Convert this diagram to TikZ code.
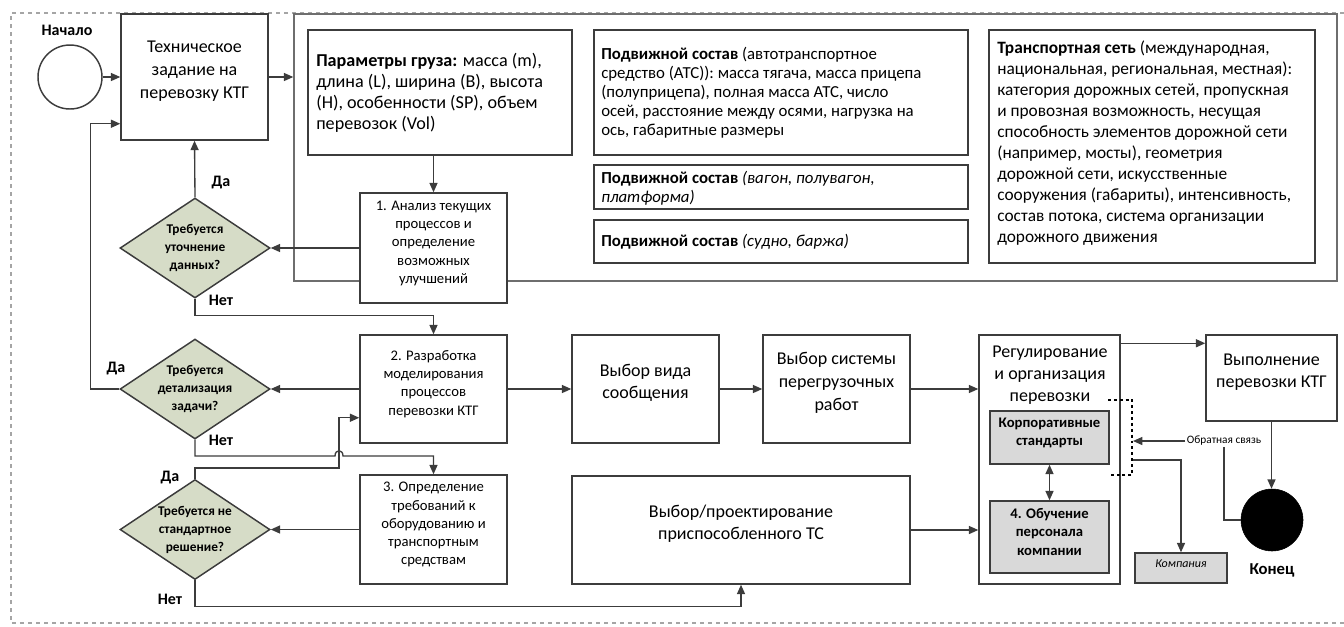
\documentclass[tikz,border=0pt]{standalone}
\usepackage{fontspec}
\setmainfont{Carlito}
\usetikzlibrary{arrows.meta,shapes.geometric,fit,calc}
\definecolor{edge}{RGB}{60,60,60}
\definecolor{dfill}{RGB}{214,220,199}
\definecolor{gfill}{RGB}{217,217,217}
\definecolor{contc}{RGB}{110,110,110}
\definecolor{dashc}{RGB}{165,165,165}
\begin{document}
\begin{tikzpicture}[x=0.75pt,y=-0.75pt,
 box/.style={draw=edge,fill=white,line width=1.1pt,inner sep=0pt,align=center,font=\fontsize{13.5}{17}\selectfont},
 sbox/.style={box,font=\fontsize{11}{13.7}\selectfont},
 gbox/.style={box,fill=gfill,font=\bfseries\fontsize{11}{13.7}\selectfont},
 dec/.style={diamond,draw=edge,line width=1.1pt,fill=dfill,inner sep=0pt,aspect=1.5,minimum width=112.5pt,minimum height=75pt,align=center,font=\bfseries\fontsize{10}{13.5}\selectfont},
 lbl/.style={font=\bfseries\fontsize{12}{14}\selectfont,inner sep=0pt},
 txt/.style={anchor=west,align=left,inner sep=0pt},
 arr/.style={draw=edge,line width=1pt,-{Triangle[length=7pt,width=6pt]}},
 ln/.style={draw=edge,line width=1pt},
]
\useasboundingbox (0,0) rectangle (1344,626);
\draw[dashc,line width=0.8pt,dashed] (1344,13) -- (11,13) -- (11,623) -- (1344,623);
\node[draw=contc,line width=1.1pt,inner sep=0pt,fit={(294,14)(1337,281)}] (cont) {};

% top-left
\node[circle,draw=edge,line width=1.1pt,minimum size=48pt,inner sep=0pt] (start) at (70,77) {};
\node[lbl] (startl) at (67,30) {Начало};
\node[box,fit={(121,14)(268,140)}] (tz) {Техническое\\задание на\\перевозку КТГ};

% container contents
\node[box,fit={(308,30)(572,155)}] (par) {};
\node[txt,font=\fontsize{13.6}{15.75}\selectfont] (part) at (316,93) {\textbf{Параметры груза:} масса (m),\\длина (L), ширина (B), высота\\(H), особенности (SP), объем\\перевозок (Vol)};
\node[box,fit={(594,30)(968,155)}] (ps1) {};
\node[txt,font=\fontsize{12.6}{14.3}\selectfont] (ps1t) at (601,93) {\textbf{Подвижной состав} (автотранспортное\\средство (АТС)): масса тягача, масса прицепа\\(полуприцепа), полная масса АТС, число\\осей, расстояние между осями, нагрузка на\\ось, габаритные размеры};
\node[box,fit={(594,165)(968,209)}] (ps2) {};
\node[txt,font=\fontsize{12.6}{14.3}\selectfont] (ps2t) at (601,188) {\textbf{Подвижной состав} \textit{(вагон, полувагон,}\\\textit{платформа)}};
\node[box,fit={(594,220)(968,263)}] (ps3) {};
\node[txt,font=\fontsize{12.6}{14.3}\selectfont] (ps3t) at (601,242) {\textbf{Подвижной состав} \textit{(судно, баржа)}};
\node[box,fit={(989,30)(1315,263)}] (ts) {};
\node[txt,font=\fontsize{13}{15.75}\selectfont] (tst) at (997,143) {\textbf{Транспортная сеть} (международная,\\национальная, региональная, местная):\\категория дорожных сетей, пропускная\\и провозная возможность, несущая\\способность элементов дорожной сети\\(например, мосты), геометрия\\дорожной сети, искусственные\\сооружения (габариты), интенсивность,\\состав потока, система организации\\дорожного движения};

\node[sbox,fit={(360,193)(507,303)}] (a1) {1. Анализ текущих\\процессов и\\определение\\возможных\\улучшений};

% decisions
\node[dec] (d1) at (195,248) {Требуется\\уточнение\\данных?};
\node[dec] (d2) at (195,389) {Требуется\\детализация\\задачи?};
\node[dec] (d3) at (195,529.5) {Требуется не\\стандартное\\решение?};
\node[lbl] (da1) at (221,183) {Да};
\node[lbl] (net1) at (221,300) {Нет};
\node[lbl] (da2) at (116,369) {Да};
\node[lbl] (net2) at (221,440) {Нет};
\node[lbl] (da3) at (170,478) {Да};
\node[lbl] (net3) at (170,599) {Нет};

% middle row
\node[sbox,fit={(360,335)(507,443)}] (a2) {2. Разработка\\моделирования\\процессов\\перевозки КТГ};
\node[sbox,fit={(360,475)(507,584)}] (a3) {3. Определение\\требований к\\оборудованию и\\транспортным\\средствам};
\node[box,fit={(572,335)(719,443)}] (vv) {Выбор вида\\сообщения};
\node[box,fit={(763,335)(910,443)}] (vsys) {Выбор системы\\перегрузочных\\работ};
\node[box,fit={(572,476)(910,584)}] (vs) {Выбор/проектирование\\приспособленного ТС};

% right part
\node[box,fit={(979,335)(1120,584)}] (reg) {};
\node[align=center,inner sep=0pt,font=\fontsize{13.5}{16.5}\selectfont] (regt) at (1050,375) {Регулирование\\и организация\\перевозки};
\node[gbox,fit={(990,411)(1109,464)}] (corp) {Корпоративные\\стандарты};
\node[gbox,fit={(990,501)(1109,573)}] (obu) {4. Обучение\\персонала\\компании};
\node[box,fit={(1206,335)(1337,421)}] (vyp) {Выполнение\\перевозки КТГ};
\node[circle,fill=black,draw=black,minimum size=46.5pt,inner sep=0pt] (fin) at (1272,520) {};
\node[lbl,font=\bfseries\fontsize{12.5}{14}\selectfont] (finl) at (1272,570) {Конец};
\node[box,fill=gfill,fit={(1135,553)(1227,583)},font=\itshape\fontsize{9}{11}\selectfont] (komp) {Компания};
\node[inner sep=1pt,fill=white,font=\fontsize{8.5}{10}\selectfont] (fb) at (1224,441) {Обратная связь};

% connectors
\draw[arr] (start.east) -- (start.east -| tz.west);
\draw[arr] (tz.east) -- (tz.east -| cont.west);
\draw[arr] (a1.north |- par.south) -- (a1.north);
\draw[arr] (a1.west) -- (d1.east);
\draw[arr] (d1.north) -- (tz.south);
\draw[arr] (d1.south) -- ++(0,17) -| (a2.north);
\draw[arr] (a2.west) -- (d2.east);
\coordinate (tzin) at ($(tz.south west)+(0,-17)$);
\draw[arr] (d2.west) -| ($(tzin)+(-30,0)$) -- (tzin);
\draw[arr] (d2.south) |- (335,456) .. controls (335,449) and (343,449) .. (343,456) -| (a3.north);
\coordinate (a2in) at ($(a2.south west)+(0,-26)$);
\draw[arr] (d3.north) |- (339,468) |- (a2in);
\draw[arr] (a3.west) -- (d3.east);
\draw[arr] (d3.south) -- ++(0,26) -| (vs.south);
\draw[arr] (a2.east) -- (vv.west);
\draw[arr] (vv.east) -- (vsys.west);
\draw[arr] (vsys.east) -- (vsys.east -| reg.west);
\draw[arr] (vs.east) -- (vs.east -| reg.west);
\coordinate (regout) at ($(reg.north east)+(0,9)$);
\draw[arr] (regout) -- (regout -| vyp.west);
\draw[arr] (vyp.south) -- (vyp.south |- fin.north);
\draw[draw=edge,line width=1pt,{Triangle[length=7pt,width=6pt]}-{Triangle[length=7pt,width=6pt]}] (corp.south) -- (obu.north);
\draw[black,line width=2.2pt,dash pattern=on 2.2pt off 2.2pt] (1108,400) -- (1132,400) -- (1132,475) -- (1108,475);
\coordinate (b1) at (1133,441);
\coordinate (b2) at (1133,460);
\draw[ln] (fin.west) -| (fb.south);
\draw[arr] (fb.west) -- (b1);
\draw[arr] (b2) -| (komp.north);
\end{tikzpicture}
\end{document}
